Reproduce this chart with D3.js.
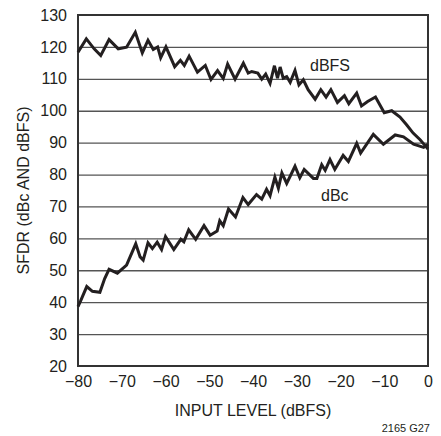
<!DOCTYPE html>
<html>
<head>
<meta charset="utf-8">
<script src="https://cdn.jsdelivr.net/npm/d3@7"></script>
<style>
  html, body { margin: 0; padding: 0; background: #fff; }
  svg { display: block; font-family: "Liberation Sans", Arial, sans-serif; }
</style>
</head>
<body>
<svg id="chart" width="441" height="436"></svg>
<script>
const xTicks = [-80, -70, -60, -50, -40, -30, -20, -10, 0];
const yTicks = [20, 30, 40, 50, 60, 70, 80, 90, 100, 110, 120, 130];

const dbfsX = [-80, -78.1, -76.3, -74.8, -72.9, -70.8, -68.9, -66.9, -65.3, -64.0, -62.8, -61.8, -61.1, -59.9,
  -57.9, -56.6, -55.7, -54.6, -52.7, -50.9, -49.6, -48.1, -46.8, -45.8, -44.1, -42.2, -41.1, -40.3, -38.9,
  -38.0, -37.1, -36.1, -35.1, -34.4, -33.8, -33.1, -32.3, -31.5, -30.4, -29.5, -28.5, -27.4, -25.8, -24.5,
  -23.3, -22.2, -20.7, -19.1, -18.1, -16.3, -15.2, -13.8, -12.0, -10.0, -8.3, -6.4, -4.9, -3.4, -1.8, -0.8, 0];
const dbfsY = [118.3, 122.5, 119.4, 117.3, 122.3, 119.4, 119.9, 124.6, 118.1, 122.1, 119.2, 120.0, 116.6, 120.0,
  113.8, 115.8, 114.2, 117.1, 112.1, 114.2, 109.8, 112.6, 110.1, 114.6, 109.9, 114.9, 111.8, 112.3, 111.8,
  109.9, 111.5, 108.6, 114.1, 110.2, 113.7, 110.2, 110.7, 108.9, 112.6, 108.1, 109.7, 106.6, 103.6, 106.6,
  104.3, 106.6, 102.6, 104.7, 102.2, 105.5, 101.5, 102.9, 104.3, 99.4, 100.0, 98.0, 95.6, 93.0, 90.9, 89.3, 88.0];

const dbcX = [-80, -79.4, -78.0, -76.7, -75.0, -73.9, -72.9, -71.0, -68.9, -66.8, -65.8, -65.1, -64.0, -63.0,
  -61.9, -60.9, -60.0, -58.1, -56.5, -55.8, -54.7, -53.1, -51.2, -49.8, -48.2, -47.6, -46.8, -45.6, -44.0,
  -42.3, -41.1, -39.2, -38.0, -36.9, -36.1, -35.0, -34.2, -33.4, -32.3, -30.4, -29.3, -28.3, -26.2, -25.4,
  -24.3, -23.5, -22.4, -21.3, -19.4, -18.2, -16.3, -15.4, -12.5, -10.2, -7.5, -5.6, -3.3, -1.0, 0];
const dbcY = [38.6, 40.4, 44.9, 43.4, 43.1, 47.4, 50.3, 49.1, 51.6, 58.3, 54.2, 53.2, 58.6, 56.8,
  58.8, 56.5, 60.6, 56.5, 59.7, 58.9, 62.7, 59.7, 64.0, 61.0, 62.3, 65.5, 64.0, 69.2, 66.7,
  72.8, 70.6, 73.7, 72.3, 75.4, 73.4, 79.2, 75.7, 80.5, 77.2, 82.6, 79.0, 81.6, 78.8, 78.8,
  83.1, 81.3, 84.7, 81.6, 86.0, 84.1, 89.8, 86.7, 92.6, 89.5, 92.4, 91.8, 89.5, 88.5, 89.5];

const svg = d3.select("#chart");
const mLeft = 78, mRight = 428, mTop = 15, mBottom = 366;

const x = d3.scaleLinear().domain([-80, 0]).range([mLeft, mRight]);
const y = d3.scaleLinear().domain([20, 130]).range([mBottom, mTop]);

// gridlines
svg.append("g")
  .attr("transform", `translate(${mLeft},0)`)
  .call(d3.axisLeft(y).tickValues(yTicks.slice(1, -1)).tickSize(-(mRight - mLeft)).tickFormat(""))
  .call(g => g.select(".domain").remove())
  .call(g => g.selectAll("line").attr("stroke", "#555").attr("stroke-width", 1.3));

// y tick labels
svg.append("g")
  .attr("transform", `translate(${mLeft},0)`)
  .call(d3.axisLeft(y).tickValues(yTicks).tickSize(0).tickPadding(11).tickFormat(d3.format("d")))
  .call(g => g.select(".domain").remove())
  .call(g => g.selectAll("text").attr("font-size", 16).attr("fill", "#231f20")
    .attr("font-family", "'Liberation Sans', Arial, sans-serif"));

// x tick labels
svg.append("g")
  .attr("transform", `translate(0,${mBottom})`)
  .call(d3.axisBottom(x).tickValues(xTicks).tickSize(0).tickPadding(10)
    .tickFormat(d => d < 0 ? "\u2212" + Math.abs(d) : String(d)))
  .call(g => g.select(".domain").remove())
  .call(g => g.selectAll("text").attr("font-size", 16).attr("fill", "#231f20")
    .attr("font-family", "'Liberation Sans', Arial, sans-serif"));

// frame
svg.append("rect")
  .attr("x", mLeft).attr("y", mTop)
  .attr("width", mRight - mLeft).attr("height", mBottom - mTop)
  .attr("fill", "none").attr("stroke", "#333").attr("stroke-width", 2);

const line = d3.line().x(d => x(d[0])).y(d => y(d[1]));

svg.append("path")
  .datum(dbfsX.map((v, i) => [v, dbfsY[i]]))
  .attr("d", line)
  .attr("fill", "none").attr("stroke", "#231f20").attr("stroke-width", 3)
  .attr("stroke-linejoin", "miter");

svg.append("path")
  .datum(dbcX.map((v, i) => [v, dbcY[i]]))
  .attr("d", line)
  .attr("fill", "none").attr("stroke", "#231f20").attr("stroke-width", 3)
  .attr("stroke-linejoin", "miter");

// series labels
svg.append("text").attr("x", 310).attr("y", 71).attr("font-size", 16).attr("fill", "#231f20").text("dBFS");
svg.append("text").attr("x", 321).attr("y", 201).attr("font-size", 16).attr("fill", "#231f20").text("dBc");

// axis titles
svg.append("text")
  .attr("x", (mLeft + mRight) / 2).attr("y", 416)
  .attr("text-anchor", "middle").attr("font-size", 16).attr("fill", "#231f20")
  .text("INPUT LEVEL (dBFS)");

svg.append("text")
  .attr("transform", `translate(29,${(mTop + mBottom) / 2}) rotate(-90)`)
  .attr("text-anchor", "middle").attr("font-size", 16).attr("fill", "#231f20")
  .text("SFDR (dBc AND dBFS)");

svg.append("text")
  .attr("x", 430).attr("y", 432)
  .attr("text-anchor", "end").attr("font-size", 11).attr("fill", "#231f20")
  .text("2165 G27");
</script>
</body>
</html>
